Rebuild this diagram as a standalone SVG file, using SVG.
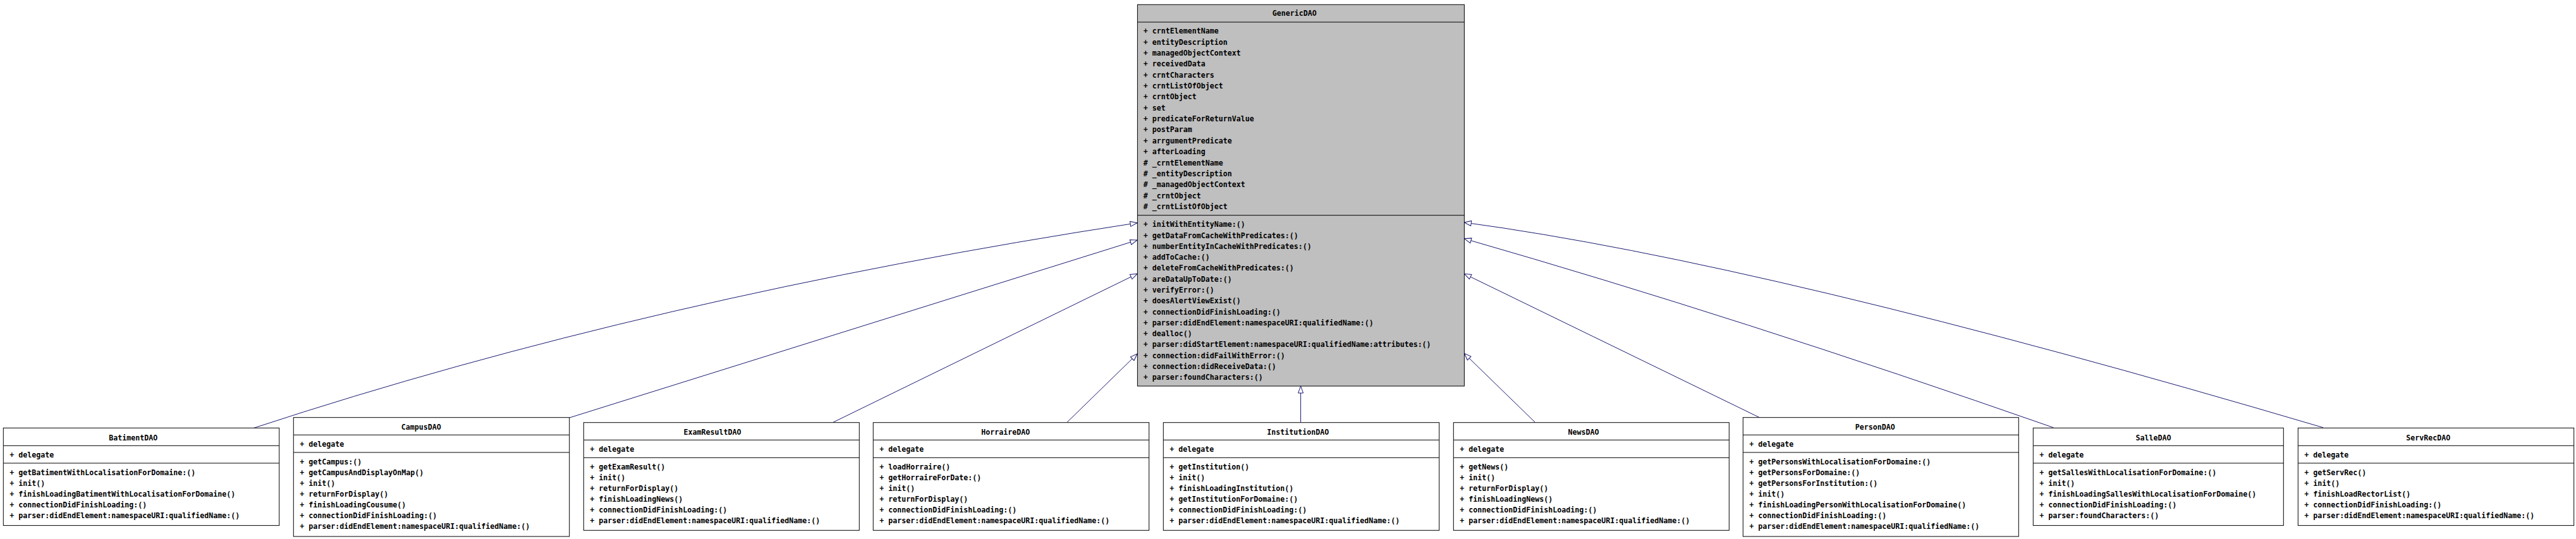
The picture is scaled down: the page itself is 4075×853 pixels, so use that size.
<svg xmlns="http://www.w3.org/2000/svg" width="4075" height="853" viewBox="0 0 4075 853">
<defs>
<style>
text{font-family:"DejaVu Sans Mono","Liberation Mono",monospace;font-size:11.63px;font-weight:bold;fill:#000}
.t{text-anchor:middle}
.box{fill:#fff;stroke:#000;stroke-width:1}
.gbox{fill:#bfbfbf;stroke:#000;stroke-width:1}
.sep{stroke:#000;stroke-width:1}
.edge{fill:none;stroke:#191970;stroke-width:1;marker-end:url(#inh)}
</style>
<marker id="inh" markerUnits="userSpaceOnUse" viewBox="-12 -5 13 10" refX="0" refY="0" markerWidth="13" markerHeight="10" orient="auto">
<path d="M0,0 L-11,-4 L-11,4 Z" fill="#fff" stroke="#191970" stroke-width="1"/>
</marker>
</defs>
<rect width="4075" height="853" fill="#fff"/>
<g id="connectors">
<path class="edge" d="M401.7,677.3 Q1028,471 1799,352.7"/>
<path class="edge" d="M901,661 L1799,380"/>
<path class="edge" d="M1318,668.3 L1799,433.3"/>
<path class="edge" d="M1688,668.3 L1799,560"/>
<path class="edge" d="M2057.6,668.7 L2057.6,611"/>
<path class="edge" d="M2428.3,668.3 L2316.3,559.3"/>
<path class="edge" d="M2783.3,660.7 L2316.3,433.3"/>
<path class="edge" d="M3248.3,676.7 Q2749,502 2316.3,377.7"/>
<path class="edge" d="M3675,676.7 Q2797.5,417 2316.3,352"/>
</g>
<g id="n_GenericDAO" transform="translate(1799.4,7.3)">
<rect class="gbox" x="0" y="0" width="517" height="603.7"/>
<line class="sep" x1="0" y1="27.7" x2="517" y2="27.7"/>
<line class="sep" x1="0" y1="333.4" x2="517" y2="333.4"/>
<text class="t" x="248.3" y="17.7">GenericDAO</text>
<text x="9.3" y="46">+ crntElementName</text>
<text x="9.3" y="63.4">+ entityDescription</text>
<text x="9.3" y="80.7">+ managedObjectContext</text>
<text x="9.3" y="98.1">+ receivedData</text>
<text x="9.3" y="115.4">+ crntCharacters</text>
<text x="9.3" y="132.8">+ crntListOfObject</text>
<text x="9.3" y="150.2">+ crntObject</text>
<text x="9.3" y="167.5">+ set</text>
<text x="9.3" y="184.9">+ predicateForReturnValue</text>
<text x="9.3" y="202.2">+ postParam</text>
<text x="9.3" y="219.6">+ arrgumentPredicate</text>
<text x="9.3" y="237">+ afterLoading</text>
<text x="9.3" y="254.3"># _crntElementName</text>
<text x="9.3" y="271.7"># _entityDescription</text>
<text x="9.3" y="289"># _managedObjectContext</text>
<text x="9.3" y="306.4"># _crntObject</text>
<text x="9.3" y="323.8"># _crntListOfObject</text>
<text x="9.3" y="352">+ initWithEntityName:()</text>
<text x="9.3" y="369.3">+ getDataFromCacheWithPredicates:()</text>
<text x="9.3" y="386.6">+ numberEntityInCacheWithPredicates:()</text>
<text x="9.3" y="403.9">+ addToCache:()</text>
<text x="9.3" y="421.2">+ deleteFromCacheWithPredicates:()</text>
<text x="9.3" y="438.5">+ areDataUpToDate:()</text>
<text x="9.3" y="455.7">+ verifyError:()</text>
<text x="9.3" y="473">+ doesAlertViewExist()</text>
<text x="9.3" y="490.3">+ connectionDidFinishLoading:()</text>
<text x="9.3" y="507.6">+ parser:didEndElement:namespaceURI:qualifiedName:()</text>
<text x="9.3" y="524.9">+ dealloc()</text>
<text x="9.3" y="542.2">+ parser:didStartElement:namespaceURI:qualifiedName:attributes:()</text>
<text x="9.3" y="559.5">+ connection:didFailWithError:()</text>
<text x="9.3" y="576.8">+ connection:didReceiveData:()</text>
<text x="9.3" y="594.1">+ parser:foundCharacters:()</text>
</g>
<g id="n_BatimentDAO" transform="translate(5.3,677.3)">
<rect class="box" x="0" y="0" width="436.4" height="154.3"/>
<line class="sep" x1="0" y1="28" x2="436.4" y2="28"/>
<line class="sep" x1="0" y1="55.7" x2="436.4" y2="55.7"/>
<text class="t" x="205.5" y="19.6">BatimentDAO</text>
<text x="10" y="46.8">+ delegate</text>
<text x="10" y="75">+ getBatimentWithLocalisationForDomaine:()</text>
<text x="10" y="92">+ init()</text>
<text x="10" y="109">+ finishLoadingBatimentWithLocalisationForDomaine()</text>
<text x="10" y="126">+ connectionDidFinishLoading:()</text>
<text x="10" y="143">+ parser:didEndElement:namespaceURI:qualifiedName:()</text>
</g>
<g id="n_CampusDAO" transform="translate(464.3,660.7)">
<rect class="box" x="0" y="0" width="436.4" height="188.3"/>
<line class="sep" x1="0" y1="27.6" x2="436.4" y2="27.6"/>
<line class="sep" x1="0" y1="55.3" x2="436.4" y2="55.3"/>
<text class="t" x="201.9" y="19.6">CampusDAO</text>
<text x="10" y="46.8">+ delegate</text>
<text x="10" y="74.6">+ getCampus:()</text>
<text x="10" y="91.6">+ getCampusAndDisplayOnMap()</text>
<text x="10" y="108.6">+ init()</text>
<text x="10" y="125.6">+ returnForDisplay()</text>
<text x="10" y="142.6">+ finishLoadingCousume()</text>
<text x="10" y="159.6">+ connectionDidFinishLoading:()</text>
<text x="10" y="176.6">+ parser:didEndElement:namespaceURI:qualifiedName:()</text>
</g>
<g id="n_ExamResultDAO" transform="translate(923.3,668.7)">
<rect class="box" x="0" y="0" width="436" height="170.6"/>
<line class="sep" x1="0" y1="27.6" x2="436" y2="27.6"/>
<line class="sep" x1="0" y1="55.6" x2="436" y2="55.6"/>
<text class="t" x="203.7" y="19.6">ExamResultDAO</text>
<text x="10" y="46.8">+ delegate</text>
<text x="10" y="74.8">+ getExamResult()</text>
<text x="10" y="91.8">+ init()</text>
<text x="10" y="108.8">+ returnForDisplay()</text>
<text x="10" y="125.8">+ finishLoadingNews()</text>
<text x="10" y="142.8">+ connectionDidFinishLoading:()</text>
<text x="10" y="159.8">+ parser:didEndElement:namespaceURI:qualifiedName:()</text>
</g>
<g id="n_HorraireDAO" transform="translate(1381.3,668.7)">
<rect class="box" x="0" y="0" width="436.4" height="170.6"/>
<line class="sep" x1="0" y1="27.6" x2="436.4" y2="27.6"/>
<line class="sep" x1="0" y1="55.6" x2="436.4" y2="55.6"/>
<text class="t" x="209.5" y="19.6">HorraireDAO</text>
<text x="10" y="46.8">+ delegate</text>
<text x="10" y="74.8">+ loadHorraire()</text>
<text x="10" y="91.8">+ getHorraireForDate:()</text>
<text x="10" y="108.8">+ init()</text>
<text x="10" y="125.8">+ returnForDisplay()</text>
<text x="10" y="142.8">+ connectionDidFinishLoading:()</text>
<text x="10" y="159.8">+ parser:didEndElement:namespaceURI:qualifiedName:()</text>
</g>
<g id="n_InstitutionDAO" transform="translate(1840.3,668.7)">
<rect class="box" x="0" y="0" width="436.4" height="170.6"/>
<line class="sep" x1="0" y1="27.6" x2="436.4" y2="27.6"/>
<line class="sep" x1="0" y1="55.6" x2="436.4" y2="55.6"/>
<text class="t" x="213" y="19.6">InstitutionDAO</text>
<text x="10" y="46.8">+ delegate</text>
<text x="10" y="74.8">+ getInstitution()</text>
<text x="10" y="91.8">+ init()</text>
<text x="10" y="108.8">+ finishLoadingInstitution()</text>
<text x="10" y="125.8">+ getInstitutionForDomaine:()</text>
<text x="10" y="142.8">+ connectionDidFinishLoading:()</text>
<text x="10" y="159.8">+ parser:didEndElement:namespaceURI:qualifiedName:()</text>
</g>
<g id="n_NewsDAO" transform="translate(2299.3,668.7)">
<rect class="box" x="0" y="0" width="436" height="170.6"/>
<line class="sep" x1="0" y1="27.6" x2="436" y2="27.6"/>
<line class="sep" x1="0" y1="55.6" x2="436" y2="55.6"/>
<text class="t" x="205.7" y="19.6">NewsDAO</text>
<text x="10" y="46.8">+ delegate</text>
<text x="10" y="74.8">+ getNews()</text>
<text x="10" y="91.8">+ init()</text>
<text x="10" y="108.8">+ returnForDisplay()</text>
<text x="10" y="125.8">+ finishLoadingNews()</text>
<text x="10" y="142.8">+ connectionDidFinishLoading:()</text>
<text x="10" y="159.8">+ parser:didEndElement:namespaceURI:qualifiedName:()</text>
</g>
<g id="n_PersonDAO" transform="translate(2757.3,660.7)">
<rect class="box" x="0" y="0" width="436" height="188.3"/>
<line class="sep" x1="0" y1="27.6" x2="436" y2="27.6"/>
<line class="sep" x1="0" y1="55.3" x2="436" y2="55.3"/>
<text class="t" x="208.9" y="19.6">PersonDAO</text>
<text x="10" y="46.8">+ delegate</text>
<text x="10" y="74.6">+ getPersonsWithLocalisationForDomaine:()</text>
<text x="10" y="91.6">+ getPersonsForDomaine:()</text>
<text x="10" y="108.6">+ getPersonsForInstitution:()</text>
<text x="10" y="125.6">+ init()</text>
<text x="10" y="142.6">+ finishLoadingPersonWithLocalisationForDomaine()</text>
<text x="10" y="159.6">+ connectionDidFinishLoading:()</text>
<text x="10" y="176.6">+ parser:didEndElement:namespaceURI:qualifiedName:()</text>
</g>
<g id="n_SalleDAO" transform="translate(3216.3,677.3)">
<rect class="box" x="0" y="0" width="396" height="154.3"/>
<line class="sep" x1="0" y1="28" x2="396" y2="28"/>
<line class="sep" x1="0" y1="55.7" x2="396" y2="55.7"/>
<text class="t" x="190.2" y="19.6">SalleDAO</text>
<text x="10" y="46.8">+ delegate</text>
<text x="10" y="75">+ getSallesWithLocalisationForDomaine:()</text>
<text x="10" y="92">+ init()</text>
<text x="10" y="109">+ finishLoadingSallesWithLocalisationForDomaine()</text>
<text x="10" y="126">+ connectionDidFinishLoading:()</text>
<text x="10" y="143">+ parser:foundCharacters:()</text>
</g>
<g id="n_ServRecDAO" transform="translate(3635.3,677.3)">
<rect class="box" x="0" y="0" width="436.4" height="154.3"/>
<line class="sep" x1="0" y1="28" x2="436.4" y2="28"/>
<line class="sep" x1="0" y1="55.7" x2="436.4" y2="55.7"/>
<text class="t" x="205.9" y="19.6">ServRecDAO</text>
<text x="10" y="46.8">+ delegate</text>
<text x="10" y="75">+ getServRec()</text>
<text x="10" y="92">+ init()</text>
<text x="10" y="109">+ finishLoadRectorList()</text>
<text x="10" y="126">+ connectionDidFinishLoading:()</text>
<text x="10" y="143">+ parser:didEndElement:namespaceURI:qualifiedName:()</text>
</g>
</svg>
